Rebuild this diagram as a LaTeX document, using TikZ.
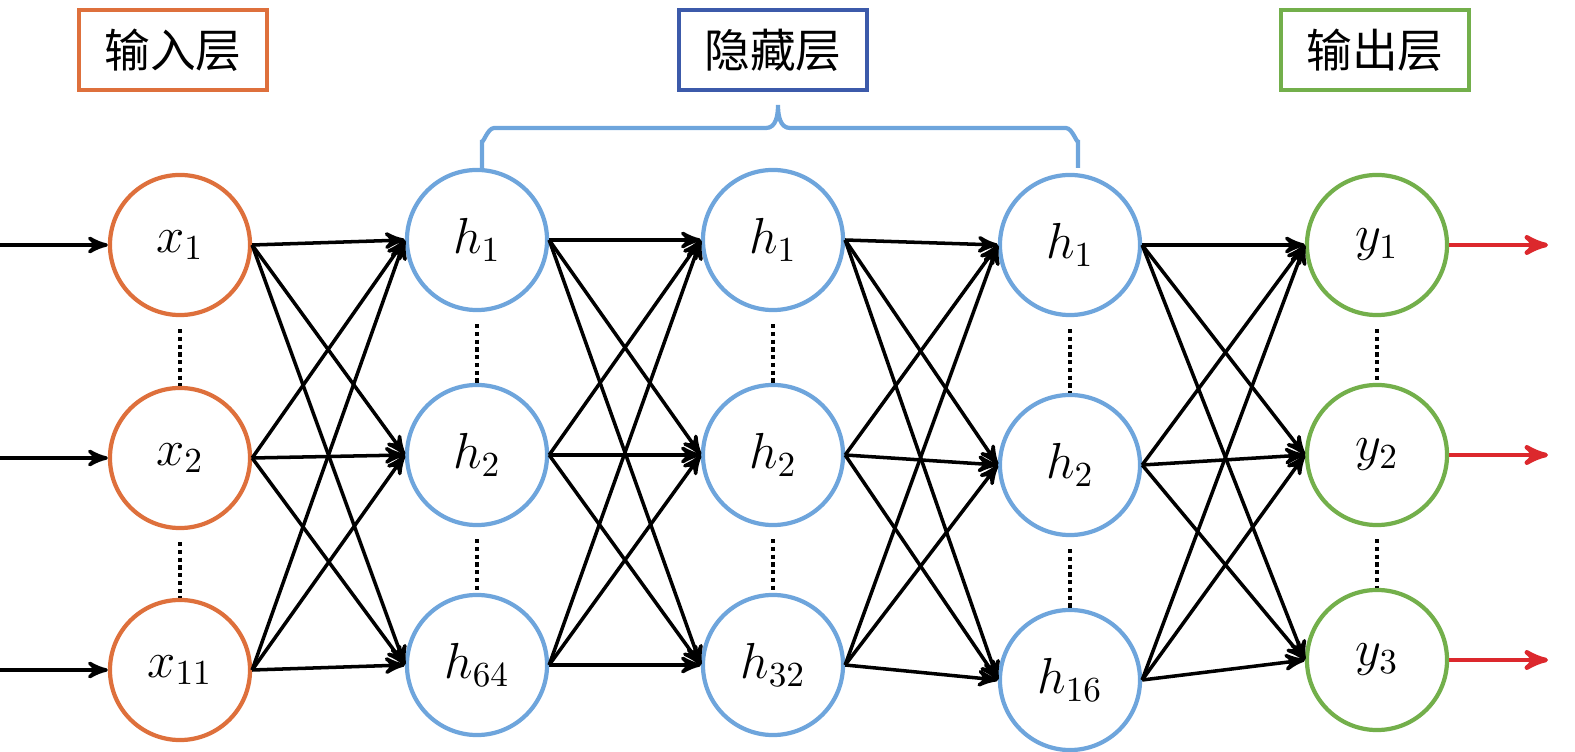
\documentclass[tikz,border=0pt]{standalone}
\usepackage{fontspec}
\newfontfamily\cjk{Noto Sans CJK SC}
\usetikzlibrary{arrows}
\definecolor{node_orange}{RGB}{222,112,60}
\definecolor{node_blue}{RGB}{110,165,220}
\definecolor{box_blue}{RGB}{60,90,170}
\definecolor{node_green}{RGB}{115,175,75}
\definecolor{edge_red}{RGB}{220,40,45}
\begin{document}
\begin{tikzpicture}[x=0.01cm,y=-0.01cm,>=stealth',line width=1pt]
    \tikzstyle{neuron}=[draw, circle, line width=1.2pt, minimum size=1.4cm, inner sep=0pt, font=\fontsize{14}{16}\selectfont]
    \tikzstyle{neuronin}=[style=neuron,draw=node_orange]
    \tikzstyle{neuronhid}=[style=neuron,draw=node_blue]
    \tikzstyle{neuronout}=[style=neuron,draw=node_green]
    \tikzstyle{title}=[draw, line width=1pt, minimum width=1.88cm, minimum height=0.8cm, font=\cjk\fontsize{13}{15}\selectfont]
    \tikzstyle{vdots}=[densely dotted, line width=1.2pt, -]
    \useasboundingbox (0,0) rectangle (1575,752);

    \node[title,draw=node_orange] (TI) at (173,50)  {输入层};
    \node[title,draw=box_blue]    (TH) at (773,50)  {隐藏层};
    \node[title,draw=node_green]  (TO) at (1375,50) {输出层};

    \node[neuronin] (X1) at (180,245) {$x_1$};
    \node[neuronin] (X2) at (180,458) {$x_2$};
    \node[neuronin] (X3) at (180,670) {$x_{11}$};
    \node[neuronhid] (A1) at (477,240) {$h_1$};
    \node[neuronhid] (A2) at (477,455) {$h_2$};
    \node[neuronhid] (A3) at (477,665) {$h_{64}$};
    \node[neuronhid] (B1) at (773,240) {$h_1$};
    \node[neuronhid] (B2) at (773,455) {$h_2$};
    \node[neuronhid] (B3) at (773,665) {$h_{32}$};
    \node[neuronhid] (C1) at (1070,245) {$h_1$};
    \node[neuronhid] (C2) at (1070,465) {$h_2$};
    \node[neuronhid] (C3) at (1070,680) {$h_{16}$};
    \node[neuronout] (Y1) at (1377,245) {$y_1$};
    \node[neuronout] (Y2) at (1377,455) {$y_2$};
    \node[neuronout] (Y3) at (1377,660) {$y_3$};

    % brace over hidden layers
    \draw[node_blue,line width=1.2pt]
      (482,168) -- (482,140) to[out=-90,in=180] (494,128) -- (766,128)
      to[out=0,in=-90] (778,105) to[out=-90,in=180] (790,128) -- (1066,128)
      to[out=0,in=-90] (1078,140) -- (1078,168);

    % dots between neurons
    \foreach \n in {X,A,B,C,Y}{
      \draw[vdots] (\n1.south) ++(0,12) -- (\n2.north) ++(0,-12);
      \draw[vdots] (\n2.south) ++(0,12) -- (\n3.north) ++(0,-12);
    }

    % connections
    \foreach \l/\r in {X/A,A/B,B/C,C/Y}
      \foreach \i in {1,2,3}
        \foreach \j in {1,2,3}
          \draw[->] (\l\i.east) -- (\r\j.west);

    % inputs and outputs
    \foreach \i in {1,2,3}{
      \coordinate (in\i) at (0,0 |- X\i.west);
      \draw[->] (in\i) -- (X\i.west);
      \coordinate (out\i) at (1548,0 |- Y\i.east);
      \draw[->,edge_red,line width=1.3pt] (Y\i.east) -- (out\i);
    }
\end{tikzpicture}
\end{document}
